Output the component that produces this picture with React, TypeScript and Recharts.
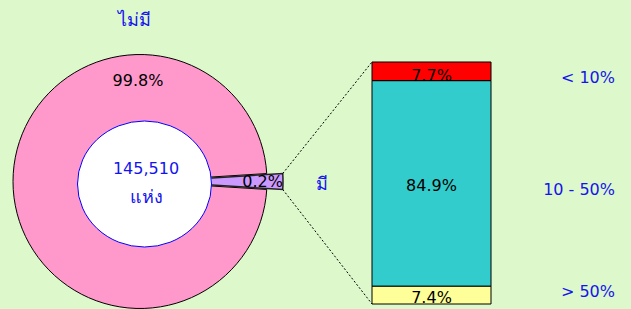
import { PieChart, Pie, Cell, BarChart, Bar, XAxis, YAxis, LabelList } from 'recharts'

const W = 631
const H = 309

// share of places with / without (outer ring + exploded slice)
const shareNames = ['ไม่มี', 'มี']
const shareValues = [99.8, 0.2]
const shareColors = ['#ff99cc', '#cc99ff']
const totalText = '145,510'
const unitText = 'แห่ง'

// breakdown of the "มี" slice, bottom to top
const bandKeys = ['high', 'mid', 'low']
const bandNames = ['> 50%', '10 - 50%', '< 10%']
const bandValues = [7.4, 84.9, 7.7]
const bandColors = ['#ffff99', '#33cccc', '#ff0000']

const BG = '#ddf8ca'
const BLUE = '#1414f0'
const FONT = "Tahoma, 'DejaVu Sans', sans-serif"

// layout
const CX = 140
const CY = 181.5
const R = 127
const EXPLODE = 16
const HALF_SLICE = 3.6
const BAR_LEFT = 372
const BAR_RIGHT = 491
const BAR_TOP = 62
const BAR_BOTTOM = 304
const NAME_X = 615
const nameShift = [-4, 6, 6]

const pieData = shareNames.map((name, i) => ({ name, value: shareValues[i] }))
const barData = [
  bandKeys.reduce((row: any, k, i) => ({ ...row, [k]: bandValues[i] }), { name: shareNames[1] }),
]

function ringLabel(p: any) {
  if (p.index !== 0) return null
  return (
    <text x={p.cx - 2} y={p.cy - (p.outerRadius + 76) / 2} textAnchor="middle" dominantBaseline="central"
      fill="#000" fontSize={16} fontFamily={FONT}>
      {p.value}%
    </text>
  )
}

function sliceLabel(p: any) {
  if (p.index !== 1) return null
  return (
    <text x={p.cx + p.outerRadius} y={p.cy} textAnchor="end" dominantBaseline="central"
      fill="#000" fontSize={16} fontFamily={FONT}>
      {p.value}%
    </text>
  )
}

function bandLabel(i: number) {
  return (p: any) => {
    const { x, y, width, height, value } = p
    return (
      <g>
        <text x={x + width / 2} y={y + height / 2 + (i === 2 ? 4 : 2)} textAnchor="middle" dominantBaseline="central"
          fill="#000" fontSize={16} fontFamily={FONT}>
          {value}%
        </text>
        <text x={NAME_X} y={y + height / 2 + nameShift[i]} textAnchor="end" dominantBaseline="central"
          fill={BLUE} fontSize={16} fontFamily={FONT}>
          {bandNames[i]}
        </text>
      </g>
    )
  }
}

export default function App() {
  const rad = (HALF_SLICE * Math.PI) / 180
  const tipX = CX + EXPLODE + R * Math.cos(rad)
  const tipDy = R * Math.sin(rad)

  return (
    <div style={{ position: 'fixed', left: 0, top: 0, width: W, height: H, background: BG, overflow: 'hidden' }}>
      <div style={{ position: 'absolute', left: 0, top: 0 }}>
        <PieChart width={W} height={H} margin={{ top: 0, right: 0, bottom: 0, left: 0 }}>
          <Pie data={pieData} dataKey="value" cx={CX} cy={CY} outerRadius={R} innerRadius={0}
            startAngle={HALF_SLICE} endAngle={360 + HALF_SLICE} minAngle={6.5}
            label={ringLabel} labelLine={false} isAnimationActive={false}>
            {pieData.map((d, i) => (
              <Cell key={d.name} fill={i === 0 ? shareColors[0] : 'none'} stroke={i === 0 ? '#000' : 'none'} strokeWidth={1} />
            ))}
          </Pie>
          <Pie data={pieData} dataKey="value" cx={CX + EXPLODE} cy={CY} outerRadius={R} innerRadius={0}
            startAngle={HALF_SLICE} endAngle={360 + HALF_SLICE} minAngle={6.5}
            label={sliceLabel} labelLine={false} isAnimationActive={false}>
            {pieData.map((d, i) => (
              <Cell key={d.name} fill={i === 1 ? shareColors[1] : 'none'} stroke={i === 1 ? '#222' : 'none'} strokeWidth={1.5} />
            ))}
          </Pie>
        </PieChart>
      </div>

      <div style={{ position: 'absolute', left: 0, top: 0 }}>
        <BarChart width={W} height={H} data={barData} barCategoryGap={0}
          margin={{ top: BAR_TOP, right: W - BAR_RIGHT, bottom: H - BAR_BOTTOM, left: BAR_LEFT }}>
          <XAxis dataKey="name" hide />
          <YAxis hide domain={[0, 100]} />
          {bandKeys.map((k, i) => (
            <Bar key={k} dataKey={k} stackId="a" fill={bandColors[i]} stroke="#000" strokeWidth={1} isAnimationActive={false}>
              <LabelList dataKey={k} content={bandLabel(i)} />
            </Bar>
          ))}
        </BarChart>
      </div>

      <svg width={W} height={H} style={{ position: 'absolute', left: 0, top: 0, pointerEvents: 'none' }}>
        <ellipse cx={144.5} cy={184} rx={67} ry={63} fill="#fff" stroke="#0000ff" strokeWidth={1} />
        <text x={146} y={168} textAnchor="middle" dominantBaseline="central" fill={BLUE} fontSize={16} fontFamily={FONT}>
          {totalText}
        </text>
        <text x={146} y={196} textAnchor="middle" dominantBaseline="central" fill={BLUE} fontSize={18} fontFamily={FONT}>
          {unitText}
        </text>
        <text x={134} y={19} textAnchor="middle" dominantBaseline="central" fill={BLUE} fontSize={18} fontFamily={FONT}>
          {shareNames[0]}
        </text>
        <text x={322} y={183} textAnchor="middle" dominantBaseline="central" fill={BLUE} fontSize={18} fontFamily={FONT}>
          {shareNames[1]}
        </text>
        <line x1={tipX} y1={CY - tipDy} x2={BAR_LEFT} y2={BAR_TOP} stroke="#000" strokeWidth={1} strokeDasharray="2 2" />
        <line x1={tipX} y1={CY + tipDy} x2={BAR_LEFT} y2={BAR_BOTTOM} stroke="#000" strokeWidth={1} strokeDasharray="2 2" />
      </svg>
    </div>
  )
}
